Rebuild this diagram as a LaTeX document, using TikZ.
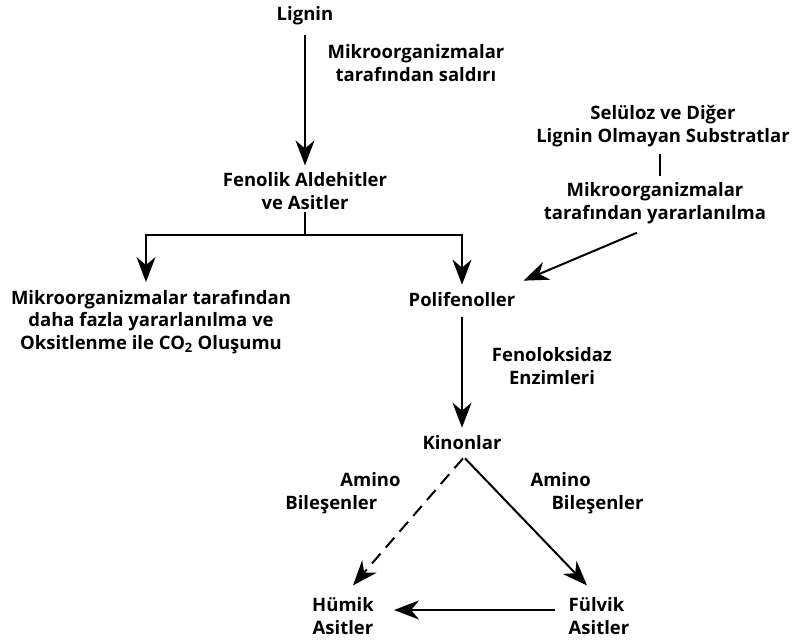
\documentclass[tikz,border=0pt]{standalone}
\usepackage{fontspec}
\setmainfont{Open Sans}
\usetikzlibrary{arrows.meta,calc}
\begin{document}
\begin{tikzpicture}[x=1pt,y=-1pt,
  font=\fontsize{18.5}{22.5}\selectfont\bfseries,
  every node/.style={inner sep=0pt, align=center},
  ln/.style={line width=2pt},
  arr/.style={ln, -{Stealth[length=25pt,width=19pt,inset=8pt]}}]
\useasboundingbox (0,0) rectangle (792,641);
\node (lignin) at (305,16) {Lignin};
\node (lab1) at (416,63) {Mikroorganizmalar\\tarafından saldırı};
\node (fen) at (305,191) {Fenolik Aldehitler\\ve Asitler};
\node (left) at (151,322) {Mikroorganizmalar tarafından\\daha fazla yararlanılma ve\\Oksitlenme ile CO\textsubscript{2} Oluşumu};
\node (poli) at (462,300) {Polifenoller};
\node (lab2) at (552,366) {Fenoloksidaz\\Enzimleri};
\node (kin) at (462,443) {Kinonlar};
\node (sel) at (663,126) {Selüloz ve Diğer\\Lignin Olmayan Substratlar};
\node (mik2) at (655,203) {Mikroorganizmalar\\tarafından yararlanılma};
\node (am1) [align=left] at (343,493) {\hspace*{55pt}Amino\\Bileşenler};
\node (am2) [align=left] at (587,493) {Amino\\\hspace*{21pt}Bileşenler};
\node (hum) at (343,616) {Hümik\\Asitler};
\node (ful) [align=left] at (599,616) {Fülvik\\Asitler};

\draw[arr] ($(lignin.south)+(0,10)$) -- ($(fen.north)+(0,-7)$);
\coordinate (br) at ($(fen.south)+(0,25)$);
\draw[ln] ($(fen.south)+(0,2)$) -- (br);
\draw[arr] (br) -| ($(left.north)+(-5,-8)$);
\draw[arr] (br) -| ($(poli.north)+(0,-8)$);
\draw[ln] ($(sel.south)+(-3,7)$) -- ($(mik2.north)+(5,-6)$);
\draw[arr] ($(mik2.south)+(-18,9)$) -- ($(poli.north east)+(8,-12)$);
\draw[arr] ($(poli.south)+(0,10)$) -- ($(kin.north)+(0,-8)$);
\draw[arr, dashed, dash pattern=on 13pt off 8pt] ($(kin.south)+(1,8)$) -- ($(hum.north)+(10,-12)$);
\draw[arr] ($(kin.south)+(3,8)$) -- ($(ful.north)+(-12,-12)$);
\draw[arr] ($(ful.west)+(-14,-6)$) -- ($(hum.east)+(20,-6)$);
\end{tikzpicture}
\end{document}
